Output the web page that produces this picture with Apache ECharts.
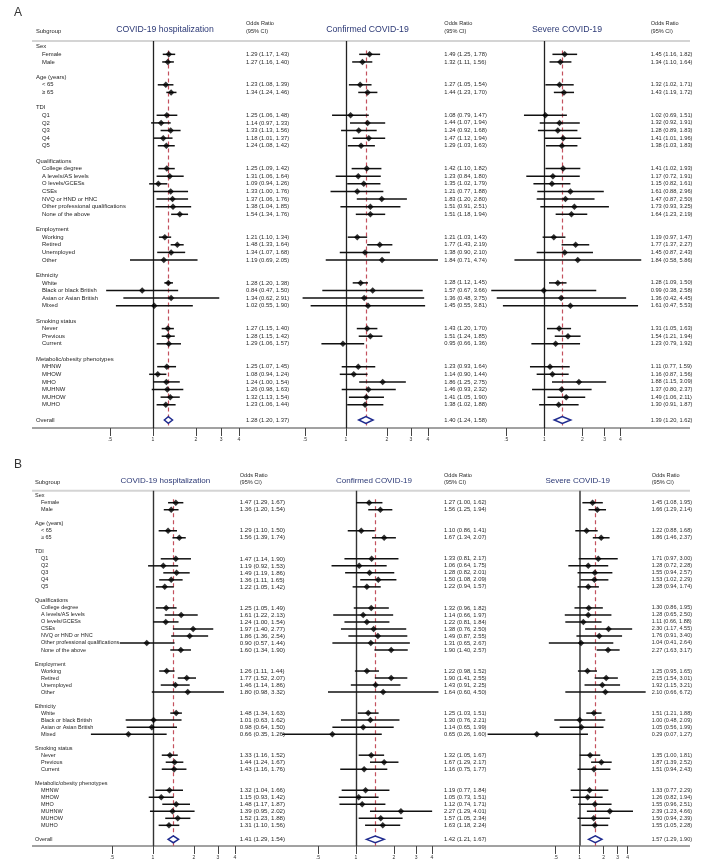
<!DOCTYPE html>
<html><head><meta charset="utf-8">
<script src="https://cdn.jsdelivr.net/npm/echarts@6/dist/echarts.min.js"></script>
<style>html,body{margin:0;padding:0;background:#fff}#c{width:703px;height:860px}</style>
</head><body><div id="c"></div>
<script>
// ---------- categories ----------
const groupNames = ['Sex','Age (years)','TDI','Qualifications','Employment','Ethnicity','Smoking status','Metabolic/obesity phenotypes'];
const sexCats = ['Female','Male'];
const ageCats = ['< 65','\u2265 65'];
const tdiCats = ['Q1','Q2','Q3','Q4','Q5'];
const qualCats = ['College degree','A levels/AS levels','O levels/GCESs','CSEs','NVQ or HND or HNC','Other professional qualifications','None of the above'];
const empCats = ['Working','Retired','Unemployed','Other'];
const ethCats = ['White','Black or black British','Asian or Asian British','Mixed'];
const smokeCats = ['Never','Previous','Current'];
const metaCats = ['MHNW','MHOW','MHO','MUHNW','MUHOW','MUHO'];
const overallLabel = 'Overall';
const plotTitles = ['COVID-19 hospitalization','Confirmed COVID-19','Severe COVID-19'];
const tickValues = [0.5, 1, 2, 3, 4];
const tickLabels = ['.5', '1', '2', '3', '4'];

// ---------- values: [OR, lower, upper] in category order ----------
const hospA = [[1.29,1.17,1.43],[1.27,1.16,1.40],[1.23,1.08,1.39],[1.34,1.24,1.46],
[1.25,1.06,1.48],[1.14,0.97,1.33],[1.33,1.13,1.56],[1.18,1.01,1.37],[1.24,1.08,1.42],
[1.25,1.09,1.42],[1.31,1.06,1.64],[1.09,0.94,1.26],[1.33,1.00,1.76],[1.37,1.06,1.76],[1.38,1.04,1.85],[1.54,1.34,1.76],
[1.21,1.10,1.34],[1.48,1.33,1.64],[1.34,1.07,1.68],[1.19,0.69,2.05],
[1.28,1.20,1.38],[0.84,0.47,1.50],[1.34,0.62,2.91],[1.02,0.55,1.90],
[1.27,1.15,1.40],[1.28,1.15,1.42],[1.29,1.06,1.57],
[1.25,1.07,1.45],[1.08,0.94,1.24],[1.24,1.00,1.54],[1.26,0.98,1.63],[1.32,1.13,1.54],[1.23,1.06,1.44]];
const hospAOverall = [1.28,1.20,1.37];
const confA = [[1.49,1.25,1.78],[1.32,1.11,1.56],[1.27,1.05,1.54],[1.44,1.23,1.70],
[1.08,0.79,1.47],[1.44,1.07,1.94],[1.24,0.92,1.68],[1.47,1.12,1.94],[1.29,1.03,1.63],
[1.42,1.10,1.82],[1.23,0.84,1.80],[1.35,1.02,1.79],[1.21,0.77,1.88],[1.83,1.20,2.80],[1.51,0.91,2.51],[1.51,1.18,1.94],
[1.21,1.03,1.43],[1.77,1.43,2.19],[1.38,0.90,2.10],[1.84,0.71,4.74],
[1.28,1.12,1.45],[1.57,0.67,3.66],[1.36,0.48,3.75],[1.45,0.55,3.81],
[1.43,1.20,1.70],[1.51,1.24,1.85],[0.95,0.66,1.36],
[1.23,0.93,1.64],[1.14,0.90,1.44],[1.86,1.25,2.75],[1.46,0.93,2.32],[1.41,1.05,1.90],[1.38,1.02,1.88]];
const confAOverall = [1.40,1.24,1.58];
const sevA = [[1.45,1.16,1.82],[1.34,1.10,1.64],[1.32,1.02,1.71],[1.43,1.19,1.72],
[1.02,0.69,1.51],[1.32,0.92,1.91],[1.28,0.89,1.83],[1.41,1.01,1.96],[1.38,1.03,1.83],
[1.41,1.02,1.93],[1.17,0.72,1.91],[1.15,0.82,1.61],[1.61,0.88,2.96],[1.47,0.87,2.50],[1.73,0.93,3.25],[1.64,1.23,2.19],
[1.19,0.97,1.47],[1.77,1.37,2.27],[1.45,0.87,2.43],[1.84,0.58,5.86],
[1.28,1.09,1.50],[0.99,0.38,2.58],[1.36,0.42,4.45],[1.61,0.47,5.53],
[1.31,1.05,1.63],[1.54,1.21,1.94],[1.23,0.79,1.92],
[1.11,0.77,1.59],[1.16,0.87,1.56],[1.88,1.15,3.09],[1.37,0.80,2.37],[1.49,1.06,2.11],[1.30,0.91,1.87]];
const sevAOverall = [1.39,1.20,1.62];
const hospB = [[1.47,1.29,1.67],[1.36,1.20,1.54],[1.29,1.10,1.50],[1.56,1.39,1.74],
[1.47,1.14,1.90],[1.19,0.92,1.53],[1.49,1.19,1.86],[1.36,1.11,1.65],[1.22,1.05,1.42],
[1.25,1.05,1.49],[1.61,1.22,2.13],[1.24,1.00,1.54],[1.97,1.40,2.77],[1.86,1.36,2.54],[0.90,0.57,1.44],[1.60,1.34,1.90],
[1.26,1.11,1.44],[1.77,1.52,2.07],[1.46,1.14,1.86],[1.80,0.98,3.32],
[1.48,1.34,1.63],[1.01,0.63,1.62],[0.98,0.64,1.50],[0.66,0.35,1.26],
[1.33,1.16,1.52],[1.44,1.24,1.67],[1.43,1.16,1.76],
[1.32,1.04,1.66],[1.15,0.93,1.42],[1.48,1.17,1.87],[1.39,0.95,2.02],[1.52,1.23,1.88],[1.31,1.10,1.56]];
const hospBOverall = [1.41,1.29,1.54];
const confB = [[1.27,1.00,1.62],[1.56,1.25,1.94],[1.10,0.86,1.41],[1.67,1.34,2.07],
[1.33,0.81,2.17],[1.06,0.64,1.75],[1.28,0.82,2.01],[1.50,1.08,2.09],[1.22,0.94,1.57],
[1.32,0.96,1.82],[1.14,0.66,1.97],[1.22,0.81,1.84],[1.38,0.76,2.50],[1.49,0.87,2.55],[1.31,0.65,2.67],[1.90,1.40,2.57],
[1.22,0.98,1.52],[1.90,1.41,2.55],[1.43,0.91,2.25],[1.64,0.60,4.50],
[1.25,1.03,1.51],[1.30,0.76,2.21],[1.14,0.65,1.99],[0.65,0.26,1.60],
[1.32,1.05,1.67],[1.67,1.29,2.17],[1.16,0.75,1.77],
[1.19,0.77,1.84],[1.05,0.73,1.51],[1.12,0.74,1.71],[2.27,1.29,4.01],[1.57,1.05,2.34],[1.63,1.18,2.24]];
const confBOverall = [1.42,1.21,1.67];
const sevB = [[1.45,1.08,1.95],[1.66,1.29,2.14],[1.22,0.88,1.68],[1.86,1.46,2.37],
[1.71,0.97,3.00],[1.28,0.72,2.28],[1.55,0.94,2.57],[1.53,1.02,2.29],[1.28,0.94,1.74],
[1.30,0.86,1.95],[1.28,0.65,2.50],[1.11,0.66,1.88],[2.30,1.17,4.55],[1.76,0.91,3.40],[1.04,0.41,2.64],[2.27,1.63,3.17],
[1.25,0.95,1.65],[2.15,1.54,3.01],[1.92,1.15,3.21],[2.10,0.66,6.72],
[1.51,1.21,1.88],[1.00,0.48,2.09],[1.05,0.56,1.99],[0.29,0.07,1.27],
[1.35,1.00,1.81],[1.87,1.39,2.52],[1.51,0.94,2.43],
[1.33,0.77,2.29],[1.26,0.82,1.94],[1.55,0.96,2.51],[2.39,1.23,4.66],[1.50,0.94,2.39],[1.55,1.05,2.28]];
const sevBOverall = [1.57,1.29,1.90];

// ---------- row structure ----------
const catLists = [sexCats, ageCats, tdiCats, qualCats, empCats, ethCats, smokeCats, metaCats];
const rows = [];      // {text, header}
const itemRows = [];  // row index of each category item
groupNames.forEach((g, gi) => {
  rows.push({text: g, header: true});
  catLists[gi].forEach(c => { itemRows.push(rows.length); rows.push({text: c, header: false}); });
  rows.push(null);
});
const overallRow = rows.length;
rows.push({text: overallLabel, header: true});

// ---------- layout (pixels / styles only) ----------
const FONT = '"Liberation Sans", Arial, Helvetica, sans-serif';
const panels = [
  {letter:'A', letterY:13, top:41, axisY:428, yMin:-0.75, yMax:50.05, headX:36, itemX:42, labelFont:5.9,
   subY:31, titleY:29.5, titleFont:8.7, head1Y:23.3, head2Y:31.7},
  {letter:'B', letterY:465, top:490.7, axisY:846, yMin:-0.713, yMax:49.95, headX:35, itemX:41, labelFont:5.5,
   subY:482, titleY:480.5, titleFont:8.0, head1Y:475, head2Y:482.3}
];
const plots = [
  {p:0, data:hospA, ov:hospAOverall, x1:153,   k:43, exp:3, textX:246,   titleX:165,   tf:5.9, ref:'#222', refW:1.3},
  {p:0, data:confA, ov:confAOverall, x1:346,   k:41, exp:3, textX:444.3, titleX:367.5, tf:5.8, ref:'#222', refW:1.3},
  {p:0, data:sevA,  ov:sevAOverall,  x1:544.3, k:38, exp:3, textX:650.7, titleX:567,   tf:5.7, ref:'#222', refW:1.3},
  {p:1, data:hospB, ov:hospBOverall, x1:153,   k:41, exp:3, textX:239.7, titleX:165.3, tf:6.2, ref:'#333', refW:1.4},
  {p:1, data:confB, ov:confBOverall, x1:356,   k:38, exp:3, textX:444,   titleX:374,   tf:5.8, ref:'#333', refW:1.4},
  {p:1, data:sevB,  ov:sevBOverall,  x1:579.7, k:24, exp:4, textX:651.7, titleX:577.7, tf:5.5, ref:'#6a6a6a', refW:2}
];

const fmt = v => v[0].toFixed(2) + ' (' + v[1].toFixed(2) + ', ' + v[2].toFixed(2) + ')';
function tickLabel(v) {
  let best = 0, bd = Infinity;
  tickValues.forEach((t, i) => { const d = Math.abs(Math.log(v / t)); if (d < bd) { bd = d; best = i; } });
  return tickLabels[best];
}

const grid = [], xAxis = [], yAxis = [], series = [], graphic = [];

plots.forEach((pl, i) => {
  const P = panels[pl.p];
  grid.push({left: pl.x1 - pl.exp * pl.k, width: 2 * pl.exp * pl.k, top: P.top, height: P.axisY - P.top,
             containLabel: false, outerBoundsMode: 'none', show: false});
  xAxis.push({type: 'log', logBase: 2, gridIndex: i, position: 'bottom', min: Math.pow(2, -pl.exp), max: Math.pow(2, pl.exp),
    axisLine: {show: false, onZero: false}, splitLine: {show: false}, minorTick: {show: false},
    axisTick: {show: true, inside: false, customValues: tickValues, length: 8, lineStyle: {color: '#444', width: 1}},
    axisLabel: {show: true, customValues: tickValues, formatter: tickLabel, fontSize: 5, margin: 9,
                color: '#333', fontFamily: FONT}});
  yAxis.push({type: 'value', gridIndex: i, inverse: true, min: P.yMin, max: P.yMax, show: false});

  // confidence intervals + reference lines
  series.push({type: 'custom', xAxisIndex: i, yAxisIndex: i, clip: false, silent: true, z: 2,
    data: pl.data.map((v, j) => [v[1], v[2], v[0], itemRows[j]]),
    encode: {x: [0, 1], y: 3},
    renderItem: (params, api) => {
      const a = api.coord([api.value(0), api.value(3)]);
      const b = api.coord([api.value(1), api.value(3)]);
      return {type: 'line', shape: {x1: a[0], y1: a[1], x2: b[0], y2: b[1]},
              style: {stroke: '#111', lineWidth: 1.5}};
    },
    markLine: {silent: true, symbol: ['none', 'none'], label: {show: false}, animation: false, z: 1,
      data: [
        {xAxis: 1, lineStyle: {color: pl.ref, width: pl.refW, type: 'solid'}},
        [{coord: [pl.ov[0], 0.5], lineStyle: {color: '#c4515e', width: 1.2, type: [4, 3]}},
         {coord: [pl.ov[0], P.yMax]}]
      ]}
  });
  // point estimates
  series.push({type: 'scatter', xAxisIndex: i, yAxisIndex: i, silent: true, z: 4,
    symbol: 'diamond', symbolSize: 6.5, itemStyle: {color: '#000'},
    data: pl.data.map((v, j) => [v[0], itemRows[j]])});
  // overall diamond
  series.push({type: 'custom', xAxisIndex: i, yAxisIndex: i, clip: false, silent: true, z: 4,
    data: [[pl.ov[1], pl.ov[2], pl.ov[0], overallRow]],
    encode: {x: [0, 1, 2], y: 3},
    renderItem: (params, api) => {
      const l = api.coord([api.value(0), api.value(3)]);
      const r = api.coord([api.value(1), api.value(3)]);
      const c = api.coord([api.value(2), api.value(3)]);
      return {type: 'polygon', shape: {points: [[l[0], c[1]], [c[0], c[1] - 3.4], [r[0], c[1]], [c[0], c[1] + 3.4]]},
              style: {fill: '#fff', stroke: '#1f2b8f', lineWidth: 1.5}};
    }});
  // OR (95% CI) text column
  const texts = pl.data.map(fmt).concat([fmt(pl.ov)]);
  series.push({type: 'custom', xAxisIndex: i, yAxisIndex: i, clip: false, silent: true, z: 5,
    data: itemRows.concat([overallRow]).map((r, j) => [1, r, j]),
    renderItem: (params, api) => {
      const c = api.coord([1, api.value(1)]);
      return {type: 'text', x: pl.textX, y: c[1],
              style: {text: texts[params.dataIndex], fill: '#2a2a2a', font: pl.tf + 'px ' + FONT,
                      align: 'left', verticalAlign: 'middle'}};
    }});
  // subgroup labels (once per panel, on first plot)
  if (i === 0 || i === 3) {
    const labelRows = rows.map((r, ri) => r ? ri : -1).filter(ri => ri >= 0);
    series.push({type: 'custom', xAxisIndex: i, yAxisIndex: i, clip: false, silent: true, z: 5,
      data: labelRows.map(ri => [1, ri]),
      renderItem: (params, api) => {
        const ri = api.value(1);
        const c = api.coord([1, ri]);
        const r = rows[ri];
        return {type: 'text', x: r.header ? P.headX : P.itemX, y: c[1],
                style: {text: r.text, fill: '#1e1e1e', font: P.labelFont + 'px ' + FONT,
                        align: 'left', verticalAlign: 'middle'}};
      }});
  }
  // headers
  graphic.push({type: 'text', x: pl.titleX, y: P.titleY, silent: true,
    style: {text: plotTitles[i % 3], fill: '#2b3875', font: P.titleFont + 'px ' + FONT, align: 'center', verticalAlign: 'middle'}});
  graphic.push({type: 'text', x: pl.textX, y: P.head1Y, silent: true,
    style: {text: 'Odds Ratio', fill: '#2a2a2a', font: '5.6px ' + FONT, align: 'left', verticalAlign: 'middle'}});
  graphic.push({type: 'text', x: pl.textX, y: P.head2Y, silent: true,
    style: {text: '(95% CI)', fill: '#2a2a2a', font: '5.6px ' + FONT, align: 'left', verticalAlign: 'middle'}});
});

panels.forEach(P => {
  graphic.push({type: 'text', x: 14, y: P.letterY, silent: true,
    style: {text: P.letter, fill: '#333', font: '12px ' + FONT, align: 'left', verticalAlign: 'middle'}});
  graphic.push({type: 'text', x: P.headX, y: P.subY, silent: true,
    style: {text: 'Subgroup', fill: '#1e1e1e', font: '5.8px ' + FONT, align: 'left', verticalAlign: 'middle'}});
  graphic.push({type: 'line', silent: true, shape: {x1: 32, y1: P.top, x2: 690, y2: P.top},
    style: {stroke: '#d4d4d4', lineWidth: 2}});
  graphic.push({type: 'line', silent: true, shape: {x1: 32, y1: P.axisY, x2: 690, y2: P.axisY},
    style: {stroke: '#444', lineWidth: 1}});
});

const chart = echarts.init(document.getElementById('c'), null, {renderer: 'canvas'});
chart.setOption({animation: false, backgroundColor: '#fff', grid, xAxis, yAxis, series, graphic});
</script></body></html>
